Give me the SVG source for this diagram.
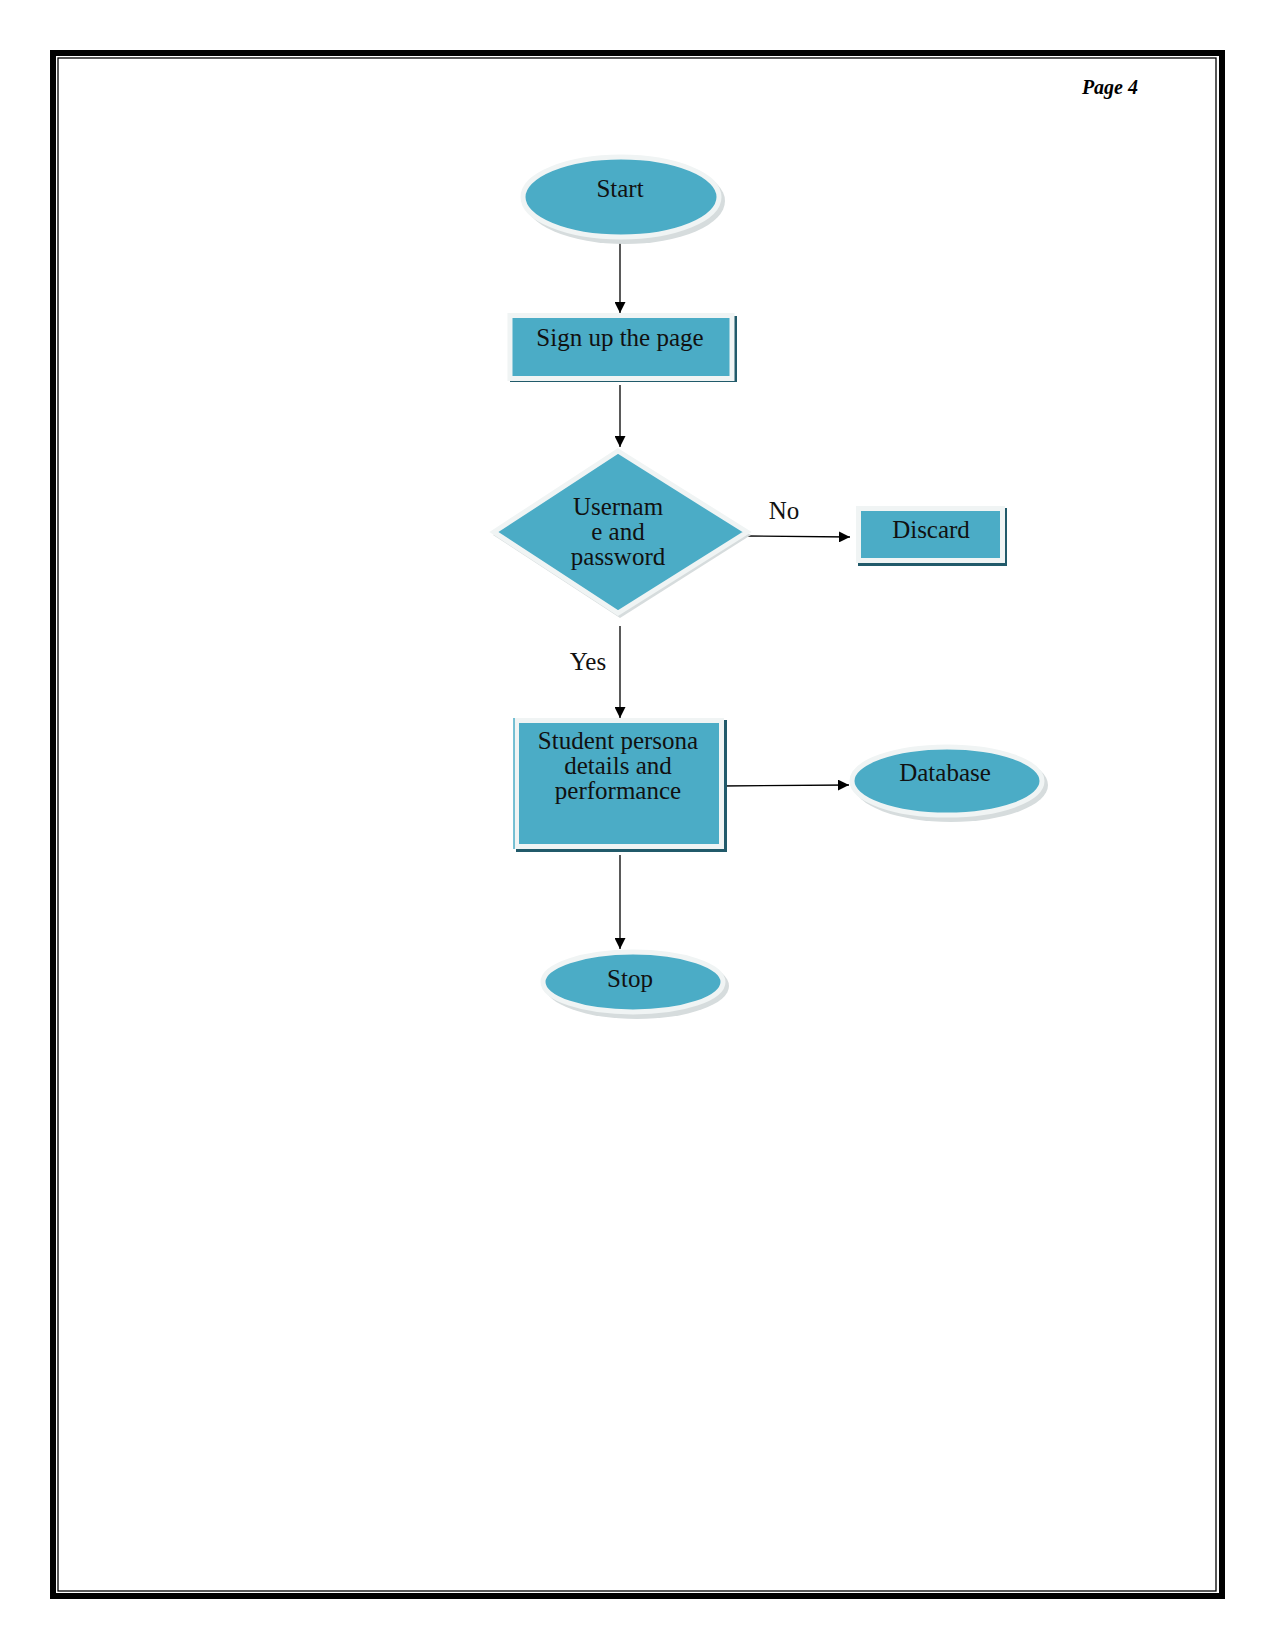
<svg xmlns="http://www.w3.org/2000/svg" width="1275" height="1650" viewBox="0 0 1275 1650">
<defs>
<style>
.fill{fill:#4BACC6;stroke:#F0F4F4;stroke-width:5}
.eshadow{fill:#D6DCDD}
.rshadow{fill:#215A6A}
.t{font-family:"Liberation Serif","Times New Roman",serif;font-size:25px;fill:#111;text-anchor:middle}
.conn{stroke:#000;stroke-width:1.3;fill:none;marker-end:url(#arr)}
</style>
<marker id="arr" viewBox="0 0 10 10" refX="10" refY="5" markerWidth="11" markerHeight="11" markerUnits="userSpaceOnUse" orient="auto">
<path d="M0,0 L10,5 L0,10 Z" fill="#000"/>
</marker>
</defs>
<rect width="1275" height="1650" fill="#fff"/>
<g id="border">
<rect x="53" y="53" width="1169" height="1543" fill="none" stroke="#000" stroke-width="6"/>
<rect x="58" y="58" width="1158" height="1533" fill="none" stroke="#000" stroke-width="1.3"/>
</g>
<text x="1138" y="94" text-anchor="end" font-family="Liberation Serif, serif" font-weight="bold" font-style="italic" font-size="20" fill="#000">Page 4</text>
<g id="connectors">
<line class="conn" x1="620" y1="241" x2="620" y2="313"/>
<line class="conn" x1="620" y1="385" x2="620" y2="447"/>
<line class="conn" x1="745" y1="536" x2="850" y2="537"/>
<line class="conn" x1="620" y1="626" x2="620" y2="718"/>
<line class="conn" x1="721" y1="786" x2="849" y2="785"/>
<line class="conn" x1="620" y1="855" x2="620" y2="949"/>
<text class="t" x="784" y="519">No</text>
<text class="t" x="588" y="670">Yes</text>
</g>
<g id="start">
<ellipse class="eshadow" cx="625" cy="201" rx="100" ry="43"/>
<ellipse class="fill" cx="621" cy="197" rx="98" ry="40"/>
<text class="t" x="620" y="197">Start</text>
</g>
<g id="signup">
<rect class="rshadow" x="510" y="316" width="227" height="66"/>
<rect class="fill" x="510" y="315.5" width="222" height="63"/>
<text class="t" x="620" y="346">Sign up the page</text>
</g>
<g id="decision">
<polygon class="eshadow" points="620,455 751,535 620,618 493,535"/>
<polygon class="fill" points="618,451 747,532 618,613 494,532"/>
<text class="t" x="618" y="515">Usernam</text>
<text class="t" x="618" y="540">e and</text>
<text class="t" x="618" y="565">password</text>
</g>
<g id="discard">
<rect class="rshadow" x="858" y="508" width="149" height="58"/>
<rect class="fill" x="858.5" y="508.5" width="144" height="52"/>
<text class="t" x="931" y="538">Discard</text>
</g>
<g id="student">
<rect class="rshadow" x="516" y="720" width="211" height="132"/>
<rect class="fill" x="516.5" y="720.5" width="205" height="126"/>
<line x1="514" y1="718" x2="514" y2="849" stroke="#4BACC6" stroke-width="1.5"/>
<text class="t" x="618" y="749">Student persona</text>
<text class="t" x="618" y="774">details and</text>
<text class="t" x="618" y="799">performance</text>
</g>
<g id="database">
<ellipse class="eshadow" cx="951" cy="785" rx="97" ry="37"/>
<ellipse class="fill" cx="947" cy="781" rx="95" ry="34"/>
<text class="t" x="945" y="781">Database</text>
</g>
<g id="stop">
<ellipse class="eshadow" cx="637" cy="986" rx="92" ry="33"/>
<ellipse class="fill" cx="633" cy="982" rx="90" ry="30"/>
<text class="t" x="630" y="987">Stop</text>
</g>
</svg>
